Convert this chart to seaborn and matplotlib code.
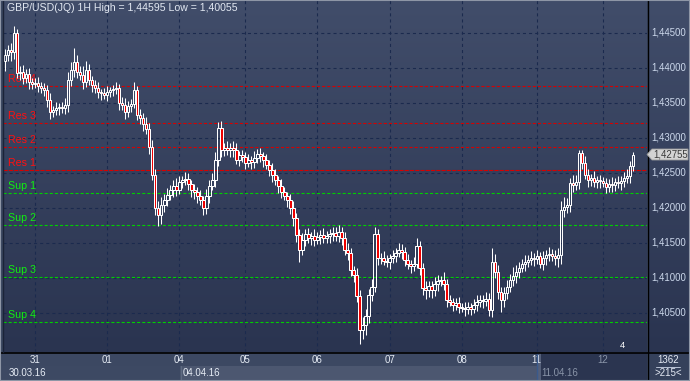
import numpy as np
import pandas as pd
import matplotlib
matplotlib.use("Agg")
import matplotlib.pyplot as plt
import seaborn as sns
from matplotlib.patches import Rectangle, Polygon
from matplotlib.lines import Line2D
from matplotlib.colors import LinearSegmentedColormap

# ---------------- data (prices in units of 0.0001) ----------------
first_open_pips = 14410
closes_pips = [
    14418, 14425, 14422, 14450, 14393, 14394, 14385, 14391, 14380, 14377,
    14378, 14374, 14371, 14368, 14354, 14337, 14340, 14342, 14344, 14342,
    14347, 14382, 14397, 14408, 14394, 14390, 14380, 14397, 14382, 14375,
    14371, 14365, 14364, 14361, 14365, 14368, 14369, 14371, 14349, 14347,
    14337, 14345, 14348, 14368, 14332, 14328, 14319, 14313, 14287, 14247,
    14199, 14189, 14204, 14211, 14218, 14225, 14231, 14225, 14237, 14239,
    14241, 14234, 14225, 14222, 14217, 14211, 14199, 14217, 14231, 14239,
    14268, 14314, 14282, 14285, 14282, 14286, 14282, 14268, 14275, 14272,
    14264, 14268, 14265, 14271, 14277, 14274, 14268, 14261, 14254, 14247,
    14239, 14231, 14222, 14217, 14211, 14199, 14185, 14161, 14140, 14154,
    14162, 14157, 14159, 14154, 14158, 14161, 14157, 14159, 14162, 14164,
    14159, 14165, 14157, 14140, 14135, 14111, 14104, 14074, 14025, 14032,
    14046, 14075, 14087, 14162, 14128, 14128, 14124, 14123, 14128, 14131,
    14135, 14140, 14137, 14125, 14120, 14117, 14120, 14145, 14114, 14085,
    14082, 14088, 14082, 14091, 14095, 14097, 14091, 14068, 14065, 14061,
    14064, 14058, 14057, 14055, 14058, 14055, 14061, 14065, 14068, 14067,
    14070, 14054, 14122, 14108, 14080, 14068, 14078, 14087, 14097, 14103,
    14108, 14114, 14120, 14123, 14125, 14128, 14127, 14131, 14120, 14128,
    14132, 14134, 14131, 14128, 14132, 14197, 14201, 14204, 14235, 14232,
    14237, 14278, 14264, 14247, 14239, 14242, 14237, 14239, 14238, 14235,
    14229, 14234, 14232, 14237, 14235, 14238, 14242, 14245, 14259, 14275,
]
wick_up = [
    9, 8, 10, 10, 6, 9, 10, 7, 8, 6,
    7, 9, 5, 7, 8, 10, 6, 9, 5, 7,
    10, 12, 11, 20, 10, 8, 13, 12, 8, 6,
    7, 8, 5, 7, 9, 5, 7, 8, 6, 9,
    10, 7, 8, 12, 6, 9, 7, 10, 8, 10,
    8, 10, 12, 8, 10, 7, 9, 12, 8, 6,
    10, 8, 6, 9, 7, 8, 6, 10, 9, 10,
    12, 8, 10, 8, 10, 7, 9, 10, 6, 8,
    7, 9, 6, 10, 7, 8, 6, 9, 7, 10,
    8, 7, 10, 8, 6, 9, 10, 7, 8, 10,
    7, 9, 6, 10, 8, 7, 10, 8, 7, 9,
    8, 10, 7, 8, 10, 8, 6, 10, 8, 12,
    10, 9, 11, 11, 8, 7, 10, 8, 6, 9,
    7, 10, 8, 7, 9, 6, 10, 12, 8, 7,
    10, 8, 7, 10, 9, 6, 11, 7, 8, 6,
    7, 8, 6, 9, 7, 6, 9, 10, 8, 7,
    10, 8, 20, 12, 10, 7, 9, 10, 8, 12,
    10, 8, 7, 10, 8, 10, 7, 9, 6, 10,
    8, 10, 7, 9, 10, 12, 14, 10, 8, 12,
    10, 4, 4, 10, 8, 6, 10, 7, 8, 6,
    8, 7, 10, 6, 8, 7, 9, 10, 8, 4,
]
wick_dn = [
    15, 8, 12, 10, 8, 10, 8, 7, 10, 8,
    6, 9, 7, 8, 10, 10, 8, 7, 10, 6,
    8, 10, 8, 10, 9, 7, 10, 8, 6, 9,
    7, 8, 10, 6, 8, 7, 9, 7, 10, 8,
    10, 7, 8, 6, 7, 9, 10, 7, 10, 8,
    10, 15, 12, 10, 8, 7, 10, 8, 6, 9,
    7, 8, 10, 9, 10, 7, 9, 8, 10, 6,
    10, 8, 10, 8, 7, 9, 10, 6, 8, 7,
    9, 6, 10, 8, 7, 9, 10, 6, 8, 10,
    7, 10, 8, 6, 10, 8, 11, 10, 17, 8,
    8, 7, 10, 8, 6, 10, 8, 7, 9, 10,
    7, 8, 10, 8, 10, 9, 10, 8, 19, 12,
    14, 10, 8, 7, 10, 9, 6, 8, 10, 7,
    8, 6, 10, 8, 7, 10, 8, 6, 10, 9,
    12, 10, 11, 8, 10, 7, 9, 10, 6, 8,
    7, 8, 6, 9, 7, 8, 6, 9, 7, 10,
    8, 9, 10, 8, 10, 17, 10, 8, 7, 9,
    10, 8, 6, 10, 8, 7, 10, 8, 6, 9,
    10, 8, 7, 10, 13, 12, 10, 8, 10, 9,
    7, 10, 8, 6, 10, 8, 7, 9, 10, 6,
    8, 7, 10, 8, 7, 10, 8, 7, 9, 6,
]

ytick_vals = [1.405, 1.410, 1.415, 1.420, 1.425, 1.430, 1.435, 1.440, 1.445]
day_pos = [10, 34, 58, 80, 104, 128, 152, 177, 199]
day_labels = ["31", "01", "04", "05", "06", "07", "08", "11", "12"]
date_pos = [1.2, 59.2, 178.5]
date_labels = ["30.03.16", "04.04.16", "11.04.16"]
res_levels = [1.42534, 1.42863, 1.43206, 1.43739]
res_labels = ["Res 1", "Res 2", "Res 3", "Res 4"]
sup_levels = [1.42206, 1.41749, 1.41014, 1.40363]
sup_labels = ["Sup 1", "Sup 2", "Sup 3", "Sup 4"]
title_text = "GBP/USD(JQ) 1H High = 1,44595 Low = 1,40055"
last_price = 1.42755
bar_info = ["1362", ">215<"]

# ---------------- table ----------------
c = np.array(closes_pips) / 1e4
o = np.r_[first_open_pips, closes_pips[:-1]] / 1e4
df = pd.DataFrame({"i": np.arange(len(c)), "open": o, "close": c})
df["top"] = df[["open", "close"]].max(axis=1)
df["bot"] = df[["open", "close"]].min(axis=1)
df["high"] = df["top"] + np.array(wick_up) / 1e4
df["low"] = df["bot"] - np.array(wick_dn) / 1e4
df["up"] = df["close"] >= df["open"]

# ---------------- style ----------------
sns.set_style("dark")
plt.rcParams["font.family"] = ["Liberation Sans", "DejaVu Sans"]
plt.rcParams["lines.scale_dashes"] = False

W, H = 690, 381
fig = plt.figure(figsize=(W / 100, H / 100), dpi=100)
fig.patch.set_facecolor("#3a465f")

def frect(x, y, w, h, color, z=-1, **kw):
    fig.add_artist(Rectangle((x / W, 1 - (y + h) / H), w / W, h / H,
                             transform=fig.transFigure, facecolor=color,
                             edgecolor="none", zorder=z, **kw))

def fline(xs, ys, color, lw=1.0, z=5):
    fig.add_artist(Line2D([x / W for x in xs], [1 - y / H for y in ys],
                          transform=fig.transFigure, color=color, lw=lw, zorder=z))

bg = LinearSegmentedColormap.from_list("bg", ["#414d6a", "#2a3450"])
YLO = 1.445 - (352 - 32.7) / 7000
YHI = 1.445 + 32.7 / 7000
XLO, XHI = -0.8333, 213.8333

# bottom band (drawn beneath the axes)
frect(0, 353, 541, 13, "#3c4862")
frect(0, 366, 180, 15, "#3d4963")
frect(180, 366, 357, 15, "#4c5770")
frect(541, 353, 106, 28, "#2b3550")
frect(537, 353, 4, 28, "#55607a")
frect(648, 353, 42, 28, "#35415b")

ax = fig.add_axes([3 / W, 1 - 352 / H, 644 / W, 352 / H])
ax.set_xlim(XLO, XHI)
ax.set_ylim(YLO, YHI)
ax.imshow(np.linspace(0, 1, 256).reshape(-1, 1), cmap=bg, aspect="auto",
          extent=[XLO, XHI, YLO, YHI], origin="upper", zorder=0)
ax.set_xticks(day_pos)
ax.set_yticks(ytick_vals)
ax.tick_params(length=0, labelbottom=False, labelleft=False)
ax.grid(True, color="#1b2a4e", lw=0.8, linestyle=(0, (2.2, 2.2)))
for s in ax.spines.values():
    s.set_visible(False)
ax.set_axisbelow(True)

# level lines
for lv, lab, k in zip(res_levels, res_labels, range(4)):
    ax.axhline(lv, color="#d80000", lw=0.8,
               linestyle=(0, (3.0, 0.8)) if k == 0 else (0, (2.2, 1.5)), zorder=2)
    ax.text(0.0085, lv + 4 / 7000, lab, transform=ax.get_yaxis_transform(),
            color="#ff1010", fontsize=7.7, va="baseline", ha="left", zorder=2)
for lv, lab in zip(sup_levels, sup_labels):
    ax.axhline(lv, color="#00d000", lw=0.8, linestyle=(0, (2.2, 1.5)), zorder=2)
    ax.text(0.0085, lv + 4 / 7000, lab, transform=ax.get_yaxis_transform(),
            color="#10f010", fontsize=7.7, va="baseline", ha="left", zorder=2)

# candles
ax.vlines(df["i"], df["top"], df["high"], color="white", lw=0.75, zorder=3)
ax.vlines(df["i"], df["low"], df["bot"], color="white", lw=0.75, zorder=3)
heights = (df["top"] - df["bot"]).clip(lower=0.000005)
faces = np.where(df["up"], "none", "#ee0000")
ax.bar(df["i"], heights, bottom=df["bot"], width=0.6667, color=faces,
       edgecolor="white", linewidth=0.72, zorder=4)

# title
ax.text(4 / 644, 1 - 8 / 352, title_text, transform=ax.transAxes, color="#e2e8f2",
        fontsize=7.6, va="center", ha="left", zorder=6)

# "4" marker bottom right
ax.text((622 - 3) / 644, 1 - 346 / 352, "4", transform=ax.transAxes, color="white",
        fontsize=6.8, va="center", ha="center", zorder=6)

# day / date labels
for p, lab in zip(day_pos, day_labels):
    col = "#8994a8" if lab == "12" else "#e6ecf5"
    ax.text(p, -8 / 352, lab, transform=ax.get_xaxis_transform(), color=col,
            fontsize=7.0, ha="center", va="center", clip_on=False)
for p, lab in zip(date_pos, date_labels):
    col = "#8994a8" if lab == "11.04.16" else "#e6ecf5"
    ax.text(p, -21.5 / 352, lab, transform=ax.get_xaxis_transform(), color=col,
            fontsize=7.0, ha="left", va="center", clip_on=False)

# right price panel
rax = fig.add_axes([648 / W, 1 - 352 / H, 42 / W, 352 / H])
rax.set_xlim(0, 1)
rax.set_ylim(YLO, YHI)
rax.imshow(np.linspace(0, 1, 256).reshape(-1, 1), cmap=bg, aspect="auto",
           extent=[0, 1, YLO, YHI], origin="upper", zorder=0)
rax.set_axis_off()
for v in ytick_vals:
    rax.text(0.07, v, f"{v:.5f}".replace(".", ","), transform=rax.get_yaxis_transform(),
             color="#cdd9ec", fontsize=6.9, va="center", ha="left")

# price tag
ty = 1 - (154.5) / H
pts = [(647 / W, ty), (652 / W, 1 - 149 / H), (688 / W, 1 - 149 / H),
       (688 / W, 1 - 160 / H), (652 / W, 1 - 160 / H)]
fig.add_artist(Polygon(pts, closed=True, transform=fig.transFigure,
                       facecolor="#d3d3d3", edgecolor="#9a9a9a", lw=0.6, zorder=7))
fig.text(653 / W, ty, f"{last_price:.5f}".replace(".", ","), color="#3a3a3a",
         fontsize=6.9, va="center", ha="left", zorder=8)

# bottom-right info box
fline([656, 680], [366.5, 366.5], "#b8c2d4", lw=0.7)
fig.text(668 / W, 1 - 360 / H, bar_info[0], color="#e4eaf4", fontsize=7.0,
         ha="center", va="center", zorder=8)
fig.text(668 / W, 1 - 373.5 / H, bar_info[1], color="#e4eaf4", fontsize=7.0,
         ha="center", va="center", zorder=8)

# separators & frame
fline([180.5, 180.5], [366, 381], "#5e6a82", lw=0.8)
fline([537, 537], [352, 381], "#3a5a8c", lw=1.0)
fline([0, 690], [352.5, 352.5], "black", lw=1.2)
fline([647.5, 647.5], [0, 381], "black", lw=1.0)
fline([2.5, 2.5], [0, 352], "#1b2338", lw=1.0)
fig.add_artist(Rectangle((0, 0), 1, 1, transform=fig.transFigure, fill=False,
                         edgecolor="#8e96a6", lw=1.5, zorder=10))

fig.savefig("out.png", dpi=100, facecolor=fig.get_facecolor())
